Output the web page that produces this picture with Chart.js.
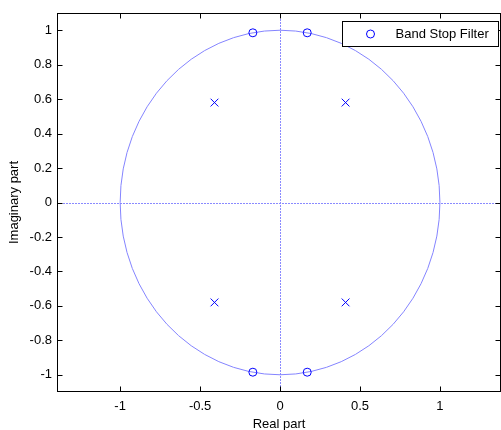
<!DOCTYPE html>
<html>
<head>
<meta charset="utf-8">
<script src="https://cdn.jsdelivr.net/npm/chart.js@4/dist/chart.umd.min.js"></script>
<style>
  html, body { margin: 0; padding: 0; background: #fff; }
  #wrap { width: 501px; height: 430px; }
</style>
</head>
<body>
<div id="wrap"><canvas id="pz"></canvas></div>
<script>
// zeros and poles
const zeroRe = [-0.17, 0.17, -0.17, 0.17];
const zeroIm = [0.985, 0.985, -0.985, -0.985];
const poleRe = [-0.41, 0.41, -0.41, 0.41];
const poleIm = [0.58, 0.58, -0.58, -0.58];
const unitRadius = 1;

const xTicks = [-1, -0.5, 0, 0.5, 1];
const yTicks = [1, 0.8, 0.6, 0.4, 0.2, 0, -0.2, -0.4, -0.6, -0.8, -1];
const xRange = [-1.395, 1.382];
const yRange = [-1.1, 1.1];

const legendLabel = "Band Stop Filter";
const FONT = "'Liberation Sans', Arial, sans-serif";

const zeros = zeroRe.map((x, i) => ({ x, y: zeroIm[i] }));
const poles = poleRe.map((x, i) => ({ x, y: poleIm[i] }));

function fmt(v) {
  return String(Math.round(v * 10) / 10);
}

// unit circle, axis lines, box, inward ticks, legend
const matlabLook = {
  id: "matlabLook",
  beforeDatasetsDraw(chart) {
    const { ctx, chartArea: a, scales: { x, y } } = chart;
    const cx = x.getPixelForValue(0), cy = y.getPixelForValue(0);
    ctx.save();
    ctx.beginPath();
    ctx.rect(a.left, a.top, a.right - a.left, a.bottom - a.top);
    ctx.clip();
    // dotted axis lines through origin
    ctx.strokeStyle = "#8a8aff";
    ctx.lineWidth = 1;
    ctx.setLineDash([2, 1]);
    ctx.beginPath();
    ctx.moveTo(a.left, Math.round(cy) + 0.5);
    ctx.lineTo(a.right, Math.round(cy) + 0.5);
    ctx.moveTo(Math.round(cx) + 0.5, a.top);
    ctx.lineTo(Math.round(cx) + 0.5, a.bottom);
    ctx.stroke();
    ctx.setLineDash([]);
    // unit circle
    const rx = x.getPixelForValue(unitRadius) - cx;
    const ry = cy - y.getPixelForValue(unitRadius);
    ctx.strokeStyle = "#8484ff";
    ctx.beginPath();
    ctx.ellipse(cx, cy, rx, ry, 0, 0, Math.PI * 2);
    ctx.stroke();
    ctx.restore();
  },
  afterDraw(chart) {
    const { ctx, chartArea: a, scales: { x, y } } = chart;
    const L = Math.round(a.left) + 0.5, R = Math.round(a.right) - 0.5;
    const T = Math.round(a.top) + 0.5, B = Math.round(a.bottom) - 0.5;
    ctx.save();
    ctx.strokeStyle = "#000";
    ctx.lineWidth = 1;
    ctx.strokeRect(L, T, R - L, B - T);
    ctx.beginPath();
    x.ticks.forEach(t => {
      const px = Math.round(x.getPixelForValue(t.value)) + 0.5;
      ctx.moveTo(px, B); ctx.lineTo(px, B - 5);
      ctx.moveTo(px, T); ctx.lineTo(px, T + 5);
    });
    y.ticks.forEach(t => {
      const py = Math.round(y.getPixelForValue(t.value)) + 0.5;
      ctx.moveTo(L, py); ctx.lineTo(L + 5, py);
      ctx.moveTo(R, py); ctx.lineTo(R - 5, py);
    });
    ctx.stroke();

    // legend box
    const bw = 156, bh = 25;
    const bx = Math.round(a.right) - 3 - bw + 0.5, by = Math.round(a.top) + 8 + 0.5;
    ctx.fillStyle = "#fff";
    ctx.fillRect(bx, by, bw, bh);
    ctx.strokeRect(bx, by, bw, bh);
    ctx.strokeStyle = "#0000ff";
    ctx.beginPath();
    ctx.arc(bx + 28, by + bh / 2, 4, 0, Math.PI * 2);
    ctx.stroke();
    ctx.fillStyle = "#000";
    ctx.font = "13px " + FONT;
    ctx.textBaseline = "middle";
    ctx.fillText(legendLabel, bx + 53, by + bh / 2 + 0.5);
    ctx.restore();
  }
};

new Chart(document.getElementById("pz"), {
  type: "scatter",
  data: {
    datasets: [
      {
        label: legendLabel,
        data: zeros,
        pointStyle: "circle",
        pointRadius: 4,
        pointBorderWidth: 1,
        borderColor: "#0000ff",
        backgroundColor: "rgba(0,0,0,0)"
      },
      {
        label: "poles",
        data: poles,
        pointStyle: "crossRot",
        pointRadius: 5.5,
        pointBorderWidth: 1,
        borderColor: "#0000ff",
        backgroundColor: "#0000ff"
      }
    ]
  },
  options: {
    responsive: true,
    maintainAspectRatio: false,
    animation: false,
    layout: { autoPadding: false, padding: { top: 13, right: 0, left: 0, bottom: 0 } },
    plugins: { legend: { display: false }, tooltip: { enabled: false } },
    scales: {
      x: {
        type: "linear",
        min: xRange[0],
        max: xRange[1],
        afterBuildTicks: s => { s.ticks = xTicks.map(v => ({ value: v })); },
        afterFit: s => { s.height = 38; },
        grid: { display: false, drawTicks: false },
        border: { display: false },
        ticks: { color: "#000", font: { family: FONT, size: 13 }, padding: 7, maxRotation: 0, callback: v => fmt(v) },
        title: { display: true, text: "Real part", color: "#000", font: { family: FONT, size: 13 }, padding: { top: 0, bottom: -2 } }
      },
      y: {
        type: "linear",
        min: yRange[0],
        max: yRange[1],
        afterBuildTicks: s => { s.ticks = yTicks.map(v => ({ value: v })); },
        afterFit: s => { s.width = 57; },
        grid: { display: false, drawTicks: false },
        border: { display: false },
        ticks: { color: "#000", font: { family: FONT, size: 13 }, padding: 5, callback: v => fmt(v) },
        title: { display: true, text: "Imaginary part", color: "#000", font: { family: FONT, size: 13 }, padding: { top: 7, bottom: 0 } }
      }
    }
  },
  plugins: [matlabLook]
});
</script>
</body>
</html>
